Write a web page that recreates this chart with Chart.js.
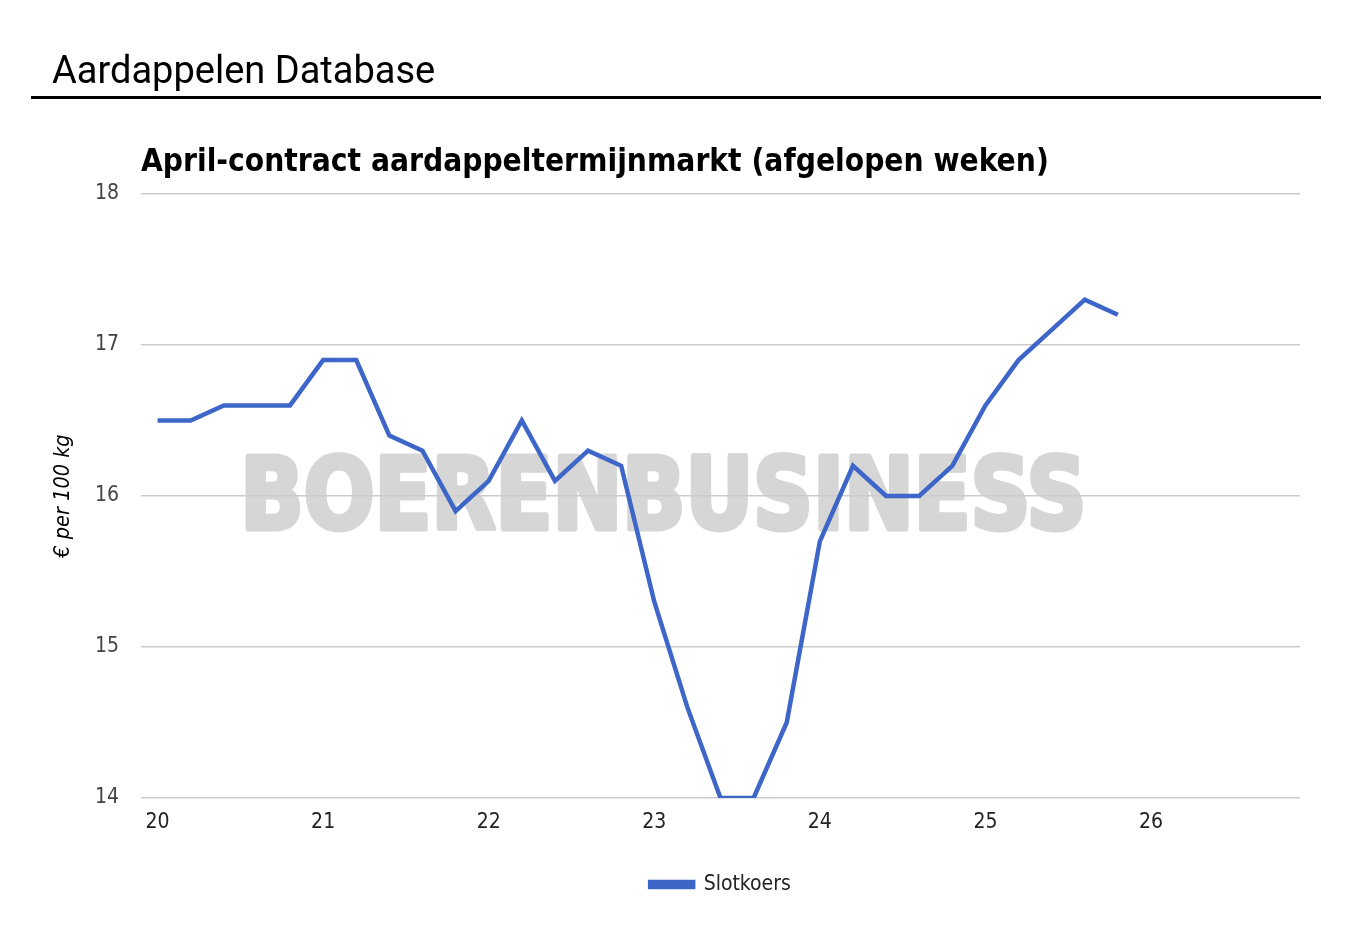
<!DOCTYPE html>
<html>
<head>
<meta charset="utf-8">
<script src="https://cdn.jsdelivr.net/npm/chart.js@4.4.1/dist/chart.umd.min.js"></script>
<style>
    html, body { margin: 0; padding: 0; background: #fff; }
    #page { position: relative; width: 1368px; height: 950px; overflow: hidden; }
    #header { position: absolute; left: 52px; top: 46px; font-family: Roboto, sans-serif; font-size: 38px; color: #000; line-height: 48px; }
    #rule { position: absolute; left: 31px; top: 96px; width: 1290px; height: 3px; background: #000; }
    #chartBox { position: absolute; left: 0; top: 0; width: 1368px; height: 950px; }
</style>
</head>
<body>
<div id="page">
    <div id="chartBox"><canvas id="chart" width="1368" height="950"></canvas></div>
    <div id="header">Aardappelen Database</div>
    <div id="rule"></div>
</div>
<script>
    'use strict';

    // weeknummers (per 0.2 week een notering)
    var weeks = [20.0, 20.2, 20.4, 20.6, 20.8, 21.0, 21.2, 21.4, 21.6, 21.8,
                 22.0, 22.2, 22.4, 22.6, 22.8, 23.0, 23.2, 23.4, 23.6, 23.8,
                 24.0, 24.2, 24.4, 24.6, 24.8, 25.0, 25.2, 25.4, 25.6, 25.8];
    var slotkoers = [16.5, 16.5, 16.6, 16.6, 16.6, 16.9, 16.9, 16.4, 16.3, 15.9,
                     16.1, 16.5, 16.1, 16.3, 16.2, 15.3, 14.6, 14.0, 14.0, 14.5,
                     15.7, 16.2, 16.0, 16.0, 16.2, 16.6, 16.9, 17.1, 17.3, 17.2];
    var xTicks = [20, 21, 22, 23, 24, 25, 26];
    var yTicks = [14, 15, 16, 17, 18];

    var chartTitle = 'April-contract aardappeltermijnmarkt (afgelopen weken)';
    var watermark = 'BOERENBUSINESS';
    var labelFont = '"DejaVu Sans Condensed", Tahoma, sans-serif';

    var points = [];
    for (var i = 0; i < weeks.length; i++) {
        points.push({ x: weeks[i], y: slotkoers[i] });
    }

    // watermerk onder de rasterlijnen, titel boven het grafiekvlak
    var decorPlugin = {
        id: 'decor',
        beforeDraw: function (chart) {
            var ctx = chart.ctx;
            var x = chart.scales.x;
            ctx.save();
            ctx.fillStyle = '#d6d6d6';
            ctx.strokeStyle = '#d6d6d6';
            ctx.lineWidth = 5;
            ctx.lineJoin = 'round';
            ctx.font = 'bold 100px "DejaVu Sans Condensed", sans-serif';
            ctx.textAlign = 'left';
            ctx.textBaseline = 'alphabetic';
            ctx.fillText(watermark, x.getPixelForValue(20.5), 529, 846);
            ctx.strokeText(watermark, x.getPixelForValue(20.5), 529, 846);
            ctx.restore();
        },
        afterDraw: function (chart) {
            var ctx = chart.ctx;
            ctx.save();
            ctx.fillStyle = '#000';
            ctx.font = 'bold 31.4px ' + labelFont;
            ctx.textAlign = 'left';
            ctx.textBaseline = 'alphabetic';
            ctx.fillText(chartTitle, 141, 171);
            ctx.restore();
        }
    };

    var ctx = document.getElementById('chart').getContext('2d');
    var myChart = new Chart(ctx, {
        type: 'line',
        data: {
            datasets: [{
                label: 'Slotkoers',
                data: points,
                borderColor: '#3d66c8',
                backgroundColor: '#3d66c8',
                borderWidth: 4.5,
                pointRadius: 0,
                tension: 0,
                fill: false
            }]
        },
        options: {
            responsive: false,
            animation: false,
            layout: { padding: { left: 40, right: 68, top: 194, bottom: 45 } },
            plugins: {
                title: { display: false },
                tooltip: { enabled: false },
                legend: {
                    position: 'bottom',
                    fullSize: false,
                    labels: {
                        boxWidth: 43,
                        boxHeight: 5,
                        color: '#222',
                        padding: 10,
                        font: { family: labelFont, size: 21 }
                    }
                }
            },
            scales: {
                x: {
                    type: 'linear',
                    min: 19.9,
                    max: 26.9,
                    afterBuildTicks: function (scale) {
                        scale.ticks = xTicks.map(function (v) { return { value: v }; });
                    },
                    afterFit: function (scale) { scale.height = 66; },
                    grid: { display: false, drawTicks: false },
                    border: { display: false },
                    ticks: {
                        color: '#222',
                        padding: 12,
                        maxRotation: 0,
                        font: { family: labelFont, size: 21 }
                    }
                },
                y: {
                    min: 14,
                    max: 18,
                    afterBuildTicks: function (scale) {
                        scale.ticks = yTicks.map(function (v) { return { value: v }; });
                    },
                    afterFit: function (scale) { scale.width = 101; },
                    grid: { color: '#cccccc', lineWidth: 1.5, drawTicks: false },
                    border: { display: false },
                    ticks: {
                        color: '#444',
                        padding: 22,
                        font: { family: labelFont, size: 21 }
                    },
                    title: {
                        display: true,
                        text: '€ per 100 kg',
                        color: '#000',
                        padding: { top: 11, bottom: 0 },
                        font: { family: labelFont, size: 21.5, style: 'italic' }
                    }
                }
            }
        },
        plugins: [decorPlugin]
    });
</script>
</body>
</html>
